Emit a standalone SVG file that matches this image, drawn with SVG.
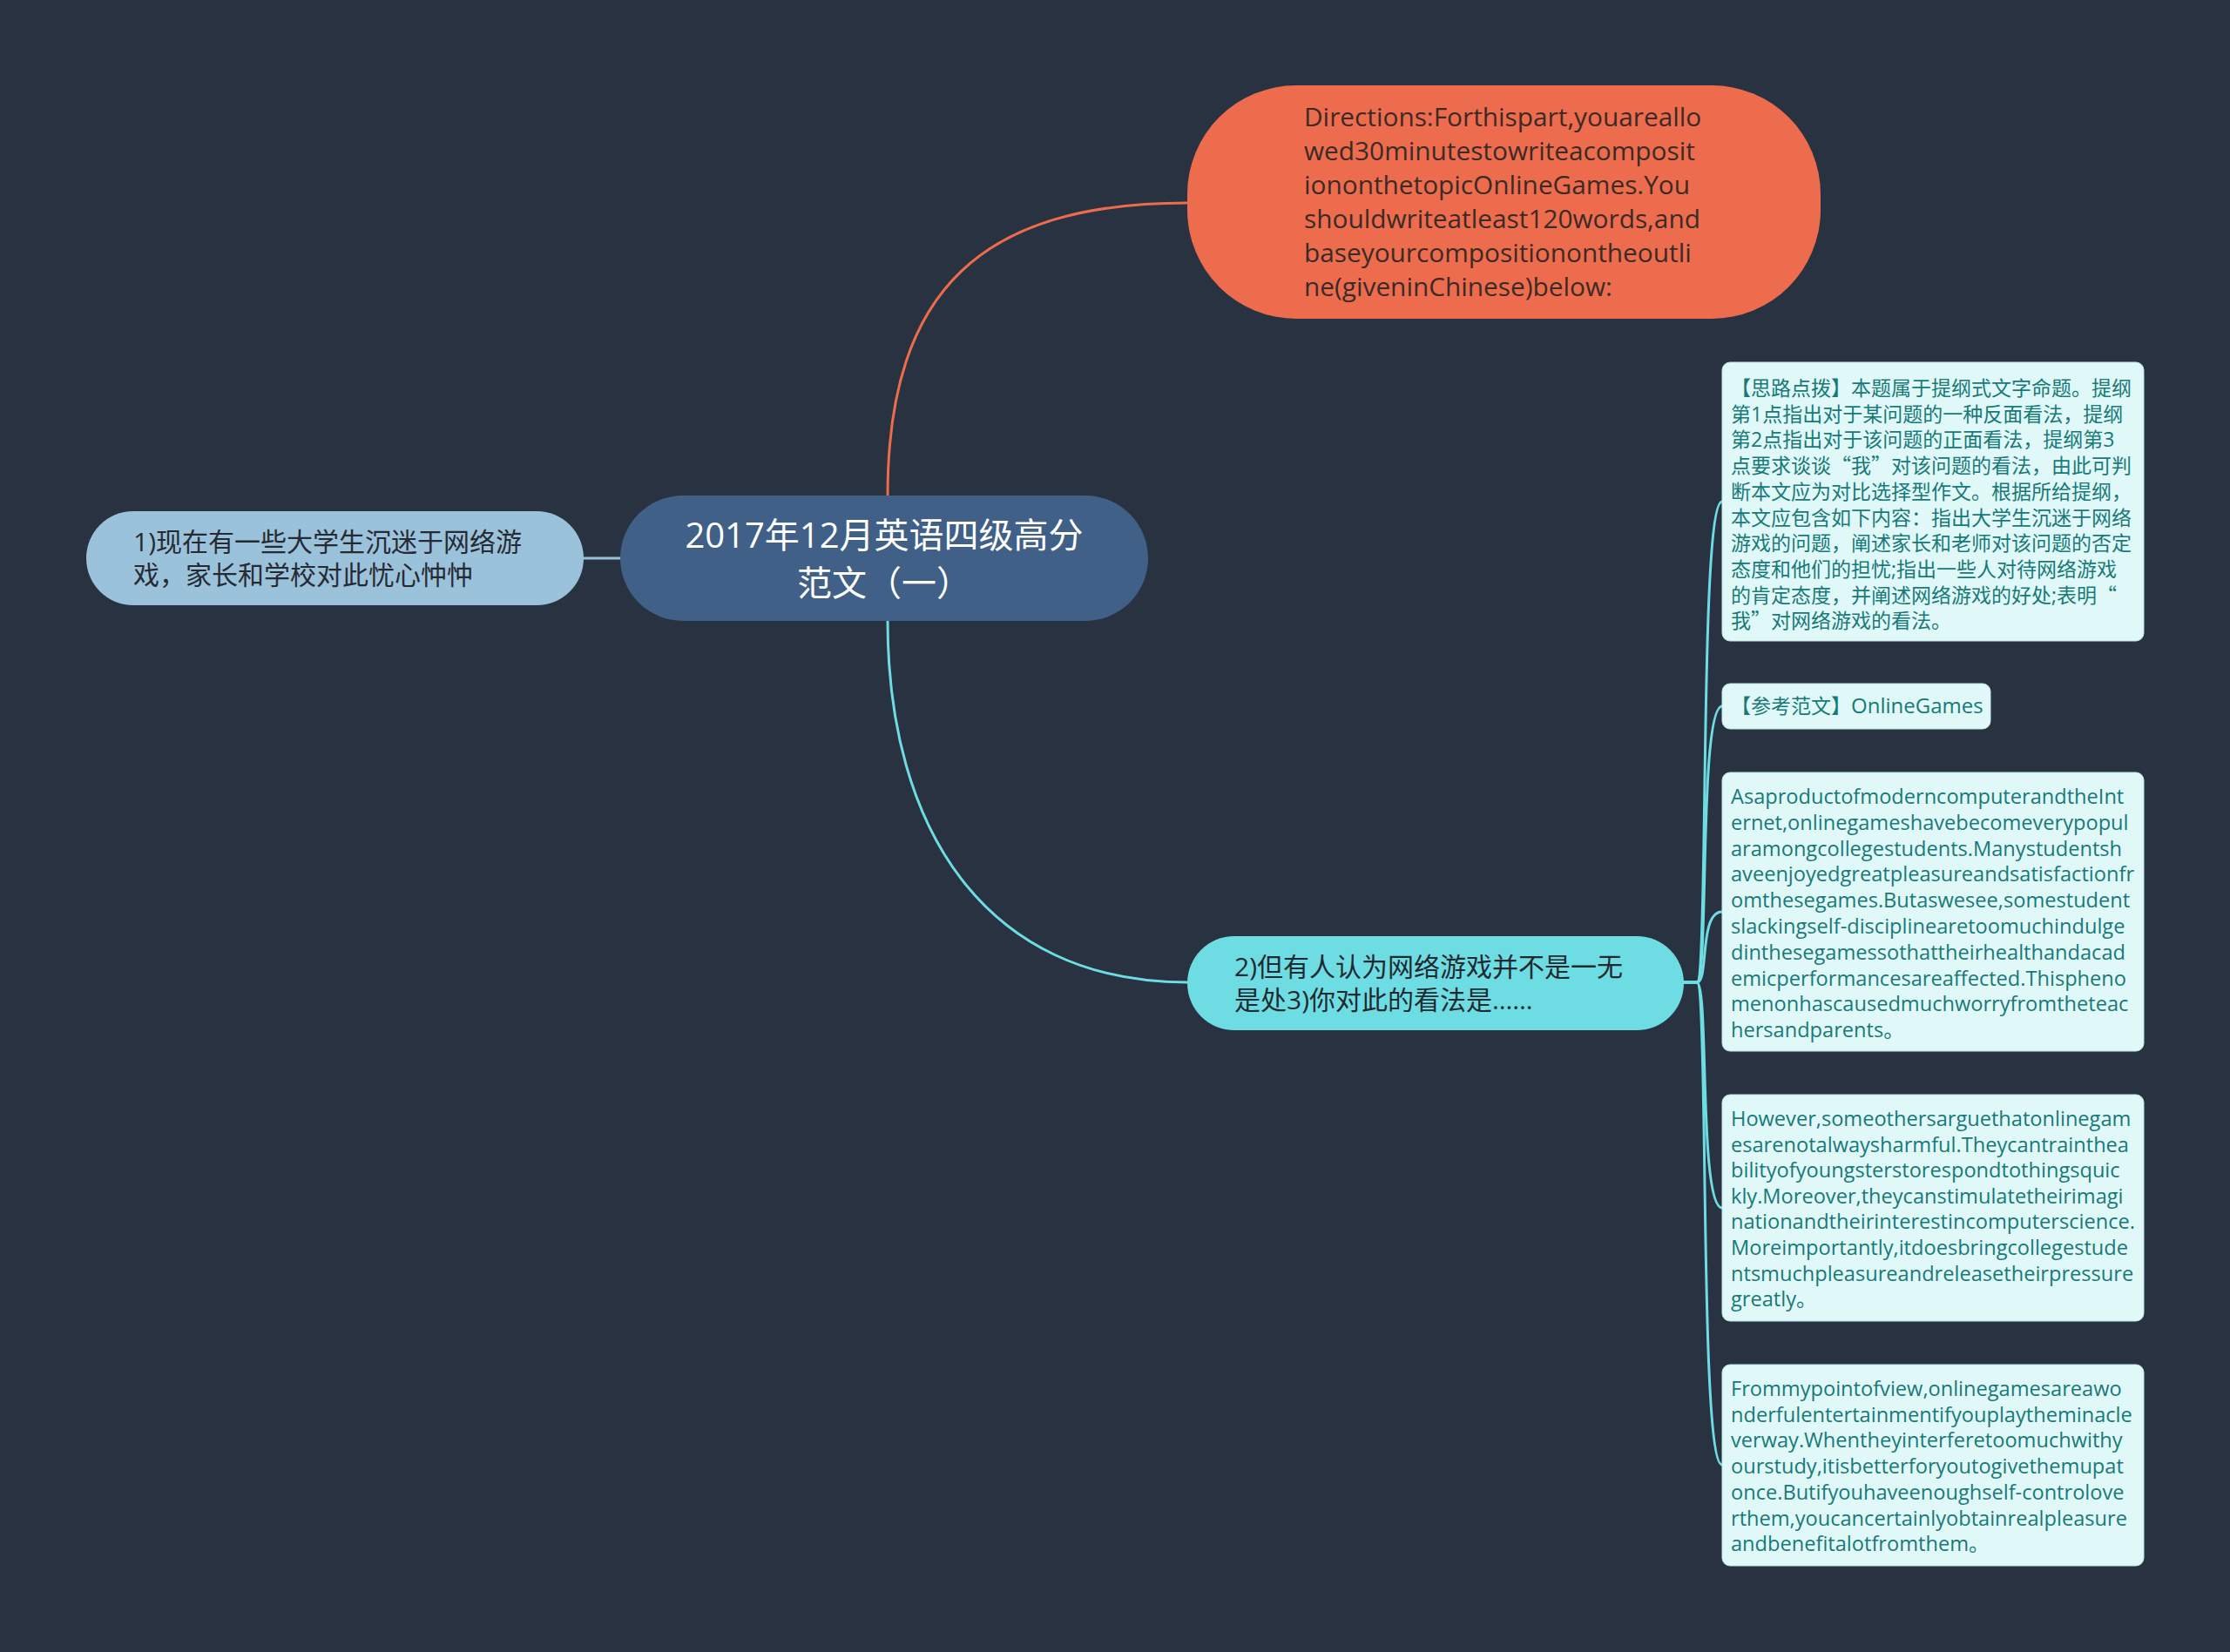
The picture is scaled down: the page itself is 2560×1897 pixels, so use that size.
<svg xmlns="http://www.w3.org/2000/svg" width="2560" height="1897" viewBox="0 0 2560 1897">
<style>
.lat{font-family:"Open Sans","Noto Sans CJK SC",sans-serif}
.cjk{font-family:"Noto Sans CJK SC",sans-serif}
.leaf rect{fill:#e0f8f8;stroke:#bfe9ea;stroke-width:1}
.leaf text{font-family:"Open Sans","Noto Sans CJK SC",sans-serif;font-size:23px;fill:#187a78}
.leaf text.en{font-size:23.6px}
.conn path{fill:none;stroke-width:3;stroke-linecap:round}
</style>
<rect width="2560" height="1897" fill="#293240"/>
<g class="conn" id="connectors">
<path d="M1019 569 C1019 330 1130 233 1363 233" stroke="#ed6c4e"/>
<path d="M670 641 L712 641" stroke="#9bc2db" stroke-width="4"/>
<path d="M1019 713 C1019 950 1130 1128 1363 1128" stroke="#6ddde3"/>
<path d="M1933 1128 L1948 1128 C1962 1128 1950 576 1977 576" stroke="#6ddde3"/>
<path d="M1933 1128 L1948 1128 C1962 1128 1950 811 1977 811" stroke="#6ddde3"/>
<path d="M1933 1128 L1948 1128 C1962 1128 1950 1047 1977 1047" stroke="#6ddde3"/>
<path d="M1933 1128 L1948 1128 C1962 1128 1950 1387 1977 1387" stroke="#6ddde3"/>
<path d="M1933 1128 L1948 1128 C1962 1128 1950 1682 1977 1682" stroke="#6ddde3"/>
</g>
<g id="center">
<rect x="712" y="569" width="606" height="144" rx="72" fill="#416087"/>
<text class="lat" font-size="40" fill="#ffffff" text-anchor="middle"><tspan x="1015" y="629">2017年12月英语四级高分</tspan><tspan x="1015" y="684">范文（一）</tspan></text>
</g>
<g id="directions">
<rect x="1363" y="98" width="727" height="268" rx="125" fill="#ed6c4e"/>
<text class="lat" font-size="29.8" fill="#3b2a25"><tspan x="1497" y="145">Directions:Forthispart,youareallo</tspan><tspan x="1497" y="184">wed30minutestowriteacomposit</tspan><tspan x="1497" y="223">iononthetopicOnlineGames.You</tspan><tspan x="1497" y="262">shouldwriteatleast120words,and</tspan><tspan x="1497" y="301">baseyourcompositionontheoutli</tspan><tspan x="1497" y="340">ne(giveninChinese)below:</tspan></text>
</g>
<g id="point1">
<rect x="99" y="587" width="571" height="108" rx="54" fill="#9bc2db"/>
<text class="lat" font-size="30" fill="#262b33"><tspan x="153" y="633">1)现在有一些大学生沉迷于网络游</tspan><tspan x="153" y="671">戏，家长和学校对此忧心忡忡</tspan></text>
</g>
<g id="point2">
<rect x="1363" y="1075" width="570" height="108" rx="54" fill="#6ddde3"/>
<text class="lat" font-size="30" fill="#1f2a30"><tspan x="1417" y="1121">2)但有人认为网络游戏并不是一无</tspan><tspan x="1417" y="1159">是处3)你对此的看法是……</tspan></text>
</g>
<g id="leaf1" class="leaf">
<rect x="1977" y="416" width="484" height="320" rx="9"/>
<text><tspan x="1987" y="454">【思路点拨】本题属于提纲式文字命题。提纲</tspan><tspan x="1987" dy="29.7">第1点指出对于某问题的一种反面看法，提纲</tspan><tspan x="1987" dy="29.7">第2点指出对于该问题的正面看法，提纲第3</tspan><tspan x="1987" dy="29.7">点要求谈谈<tspan class="cjk">“</tspan>我<tspan class="cjk">”</tspan>对该问题的看法，由此可判</tspan><tspan x="1987" dy="29.7">断本文应为对比选择型作文。根据所给提纲，</tspan><tspan x="1987" dy="29.7">本文应包含如下内容：指出大学生沉迷于网络</tspan><tspan x="1987" dy="29.7">游戏的问题，阐述家长和老师对该问题的否定</tspan><tspan x="1987" dy="29.7">态度和他们的担忧;指出一些人对待网络游戏</tspan><tspan x="1987" dy="29.7">的肯定态度，并阐述网络游戏的好处;表明<tspan class="cjk">“</tspan></tspan><tspan x="1987" dy="29.7">我<tspan class="cjk">”</tspan>对网络游戏的看法。</tspan></text>
</g>
<g id="leaf2" class="leaf">
<rect x="1977" y="785" width="308" height="52" rx="9"/>
<text><tspan x="1987" y="819">【参考范文】<tspan font-size="24">OnlineGames</tspan></tspan></text>
</g>
<g id="leaf3" class="leaf">
<rect x="1977" y="887" width="484" height="320" rx="9"/>
<text class="en"><tspan x="1987" y="923">AsaproductofmoderncomputerandtheInt</tspan><tspan x="1987" dy="29.8">ernet,onlinegameshavebecomeverypopul</tspan><tspan x="1987" dy="29.8">aramongcollegestudents.Manystudentsh</tspan><tspan x="1987" dy="29.8">aveenjoyedgreatpleasureandsatisfactionfr</tspan><tspan x="1987" dy="29.8">omthesegames.Butaswesee,somestudent</tspan><tspan x="1987" dy="29.8">slackingself-disciplinearetoomuchindulge</tspan><tspan x="1987" dy="29.8">dinthesegamessothattheirhealthandacad</tspan><tspan x="1987" dy="29.8">emicperformancesareaffected.Thispheno</tspan><tspan x="1987" dy="29.8">menonhascausedmuchworryfromtheteac</tspan><tspan x="1987" dy="29.8">hersandparents。</tspan></text>
</g>
<g id="leaf4" class="leaf">
<rect x="1977" y="1257" width="484" height="260" rx="9"/>
<text class="en"><tspan x="1987" y="1293">However,someothersarguethatonlinegam</tspan><tspan x="1987" dy="29.6">esarenotalwaysharmful.Theycantrainthea</tspan><tspan x="1987" dy="29.6">bilityofyoungsterstorespondtothingsquic</tspan><tspan x="1987" dy="29.6">kly.Moreover,theycanstimulatetheirimagi</tspan><tspan x="1987" dy="29.6">nationandtheirinterestincomputerscience.</tspan><tspan x="1987" dy="29.6">Moreimportantly,itdoesbringcollegestude</tspan><tspan x="1987" dy="29.6">ntsmuchpleasureandreleasetheirpressure</tspan><tspan x="1987" dy="29.6">greatly。</tspan></text>
</g>
<g id="leaf5" class="leaf">
<rect x="1977" y="1567" width="484" height="231" rx="9"/>
<text class="en"><tspan x="1987" y="1603">Frommypointofview,onlinegamesareawo</tspan><tspan x="1987" dy="29.7">nderfulentertainmentifyouplaytheminacle</tspan><tspan x="1987" dy="29.7">verway.Whentheyinterferetoomuchwithy</tspan><tspan x="1987" dy="29.7">ourstudy,itisbetterforyoutogivethemupat</tspan><tspan x="1987" dy="29.7">once.Butifyouhaveenoughself-controlove</tspan><tspan x="1987" dy="29.7">rthem,youcancertainlyobtainrealpleasure</tspan><tspan x="1987" dy="29.7">andbenefitalotfromthem。</tspan></text>
</g>
</svg>
